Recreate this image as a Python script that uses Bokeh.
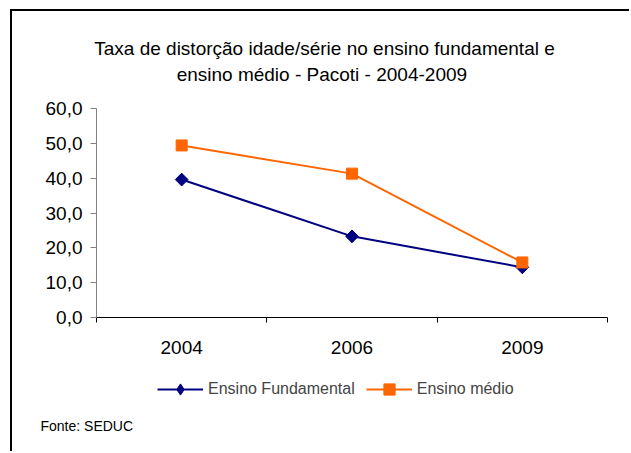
import math
from bokeh.plotting import figure
from bokeh.models import (Range1d, FixedTicker, CustomJSTickFormatter, Legend, LegendItem, Label, ColumnDataSource)
from bokeh.embed import file_html
from bokeh.resources import INLINE

years = ["2004", "2006", "2009"]
fundamental = [39.6, 23.3, 14.4]
medio = [49.4, 41.3, 15.8]
y_ticks = [0, 10, 20, 30, 40, 50, 60]
title_lines = ["Taxa de distorção idade/série no ensino fundamental e",
               "ensino médio - Pacoti -  2004-2009"]
source_note = "Fonte: SEDUC"

FONT = "Liberation Sans"

# layout (canvas pixels)
W, H = 619, 442
ax_left, ax_right = 84, 595      # x of y-axis and end of x-axis
ax_top, ax_bottom = 97, 306      # y of 60 and of 0 (from canvas top)
n = len(years)
ymax = y_ticks[-1]
xs_per_px = n / (ax_right - ax_left)
ys_per_px = ymax / (ax_bottom - ax_top)
x_range = Range1d(-ax_left * xs_per_px, n + (W - ax_right) * xs_per_px)
y_range = Range1d(-(H - ax_bottom) * ys_per_px, ymax + ax_top * ys_per_px)

xs = [i + 0.5 for i in range(n)]
src = ColumnDataSource(dict(x=xs, f=fundamental, m=medio))

p = figure(width=W, height=H, output_backend="svg", toolbar_location=None,
           x_range=x_range, y_range=y_range,
           min_border_left=0, min_border_right=0, min_border_top=0, min_border_bottom=0)
p.styles = {"border-top": "2px solid black", "border-left": "2px solid black",
            "margin-left": "10px", "margin-top": "9px"}
p.outline_line_color = None
p.xgrid.visible = False
p.ygrid.visible = False
p.background_fill_color = "white"
p.border_fill_color = "white"

# y axis
p.yaxis.fixed_location = 0
p.yaxis.bounds = (0, ymax)
p.yaxis.ticker = FixedTicker(ticks=y_ticks)
p.yaxis.formatter = CustomJSTickFormatter(code="return tick.toFixed(1).replace('.', ',');")
p.yaxis.axis_line_color = "#808080"
p.yaxis.major_tick_line_color = "#808080"
p.yaxis.major_tick_out = 6
p.yaxis.major_tick_in = 0
p.yaxis.minor_tick_line_color = None
p.yaxis.major_label_standoff = 8
p.yaxis.major_label_text_font = FONT
p.yaxis.major_label_text_font_size = "19px"
p.yaxis.major_label_text_color = "black"

# x axis
p.xaxis.fixed_location = 0
p.xaxis.bounds = (0, n)
p.xaxis.ticker = FixedTicker(ticks=xs, minor_ticks=list(range(n + 1)))
p.xaxis.major_label_overrides = {x: y for x, y in zip(xs, years)}
p.xaxis.major_tick_line_color = None
p.xaxis.major_tick_out = 0
p.xaxis.major_tick_in = 0
p.xaxis.minor_tick_line_color = "black"
p.xaxis.minor_tick_out = 5
p.xaxis.minor_tick_in = 0
p.xaxis.axis_line_color = "black"
p.xaxis.major_label_standoff = 18
p.xaxis.major_label_text_font = FONT
p.xaxis.major_label_text_font_size = "19px"
p.xaxis.major_label_text_color = "black"

l1 = p.line("x", "f", source=src, line_color="#000080", line_width=2)
d1 = p.scatter("x", "f", source=src, marker="diamond", size=12,
               fill_color="#000080", line_color="#000080")
s1 = p.scatter("x", "f", source=src, marker="square", angle=math.pi / 4, size=9,
               fill_color="#000080", line_color="#000080")
l2 = p.line("x", "m", source=src, line_color="#FF6600", line_width=2)
s2 = p.scatter("x", "m", source=src, marker="square", size=11, fill_color="#FF6600", line_color="#FF6600")

legend = Legend(items=[LegendItem(label="Ensino Fundamental", renderers=[l1, d1]),
                       LegendItem(label="Ensino médio", renderers=[l2, s2])],
                orientation="horizontal", location=(145, 50),
                label_text_font=FONT, label_text_font_size="16px",
                glyph_width=46, glyph_height=28, label_standoff=5, spacing=11,
                padding=0, margin=0, border_line_color=None, background_fill_alpha=0)
p.add_layout(legend)

p.add_layout(Label(x=312, y=H - 37, x_units="screen", y_units="screen", text=title_lines[0],
                   text_align="center", text_baseline="middle", text_font=FONT,
                   text_font_size="19px", text_color="black"))
p.add_layout(Label(x=312, y=H - 63, x_units="screen", y_units="screen", text=title_lines[1],
                   text_align="center", text_baseline="middle", text_font=FONT,
                   text_font_size="19px", text_color="black"))
p.add_layout(Label(x=28, y=28, x_units="screen", y_units="screen", text=source_note,
                   text_align="left", text_baseline="middle", text_font=FONT,
                   text_font_size="14px", text_color="black"))

open("out.html", "w").write(file_html(p, INLINE))
